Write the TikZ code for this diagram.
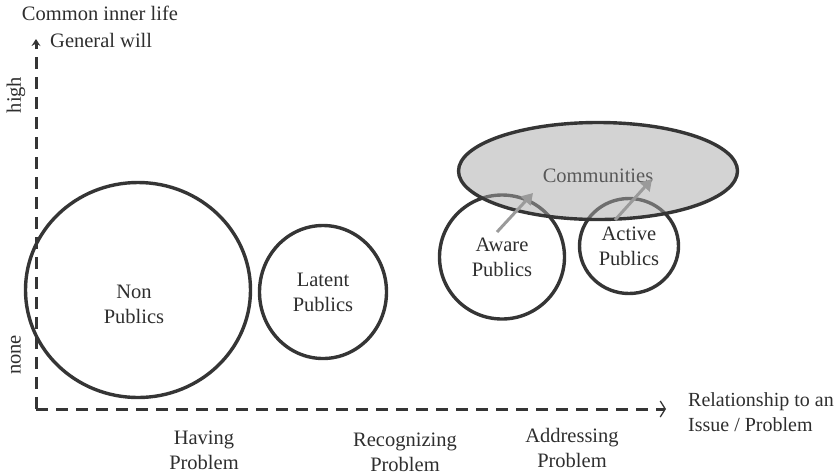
\documentclass[tikz,border=0pt]{standalone}
\usepackage{fontspec}
\setmainfont{Liberation Serif}
\usetikzlibrary{shapes.geometric,arrows.meta}
\definecolor{ink}{HTML}{353535}
\definecolor{txt}{HTML}{2E2E2E}
\definecolor{commfill}{HTML}{A8A8A8}
\definecolor{shift}{HTML}{9A9A9A}
\begin{document}
\begin{tikzpicture}[x=1pt,y=-1pt,
  every node/.style={font=\fontsize{20.5}{25}\selectfont, text=txt},
  group/.style={ellipse, draw=ink, line width=3.4pt, inner sep=0pt, align=center},
  commbox/.style={ellipse, draw=ink, line width=3.4pt, fill=commfill,
    fill opacity=0.5, draw opacity=1, text opacity=1, inner sep=0pt},
  axisline/.style={draw=ink, line width=3pt, dash pattern=on 12pt off 8pt},
  shiftarrow/.style={draw=shift, line width=3pt, -{Triangle[length=11pt,width=13pt]}},
  label/.style={align=center, inner sep=0pt}
]
\useasboundingbox (0,0) rectangle (840,475);

% axes
\coordinate (o) at (36,409);
\coordinate (ytip) at (36,39);
\coordinate (xtip) at (666,409);
\draw[axisline, -{Stealth[length=7pt,width=9pt,line width=0pt]}] (o) -- (ytip);
\draw[axisline, -{Straight Barb[length=5pt,width=16pt,line width=1.3pt]}] (o) -- (xtip);

% groups of publics
\node[group, minimum width=225pt, minimum height=215pt] (non) at (138,290) {};
\node[label] (nontext) at (134,304) {Non\\Publics};
\node[group, minimum width=127pt, minimum height=133pt] (latent) at (323,292) {Latent\\Publics};
\node[group, minimum width=125pt, minimum height=124pt] (aware) at (502,257) {Aware\\Publics};
\node[group, minimum width=99pt, minimum height=95pt] (active) at (629,246) {Active\\Publics};

% communities, shaded over the overlapping publics
\node[commbox, minimum width=279pt, minimum height=97pt] (comm) at (598,171) {};
\node[inner sep=0pt, text=txt!80!white] (commtext) at (598,176) {Communities};

% movement into communities
\coordinate (aw0) at (497,232);
\coordinate (aw1) at (533,193);
\coordinate (ac0) at (615,220);
\coordinate (ac1) at (652,179);
\draw[shiftarrow] (aw0) -- (aw1);
\draw[shiftarrow] (ac0) -- (ac1);

% axis labels
\node[label] (ytop) at (100,13) {Common inner life};
\node[label, anchor=west] (ywill) at (50,40) {General will};
\node[label, rotate=90] (yhigh) at (16,95) {high};
\node[label, rotate=90] (ynone) at (16,355) {none};
\node[label, align=left, anchor=west, font=\fontsize{20}{24.5}\selectfont] (xname) at (688,412) {Relationship to an\\Issue / Problem};

\node[label] (having) at (204,450) {Having\\Problem};
\node[label] (recog) at (405,452) {Recognizing\\Problem};
\node[label] (address) at (572,448) {Addressing\\Problem};
\end{tikzpicture}
\end{document}
